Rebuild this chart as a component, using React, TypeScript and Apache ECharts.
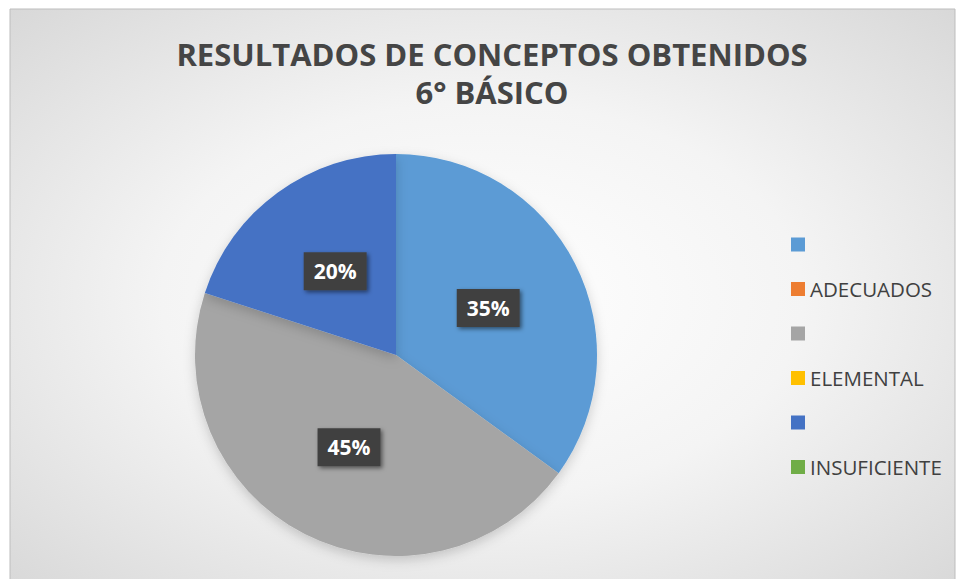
import React, { useEffect, useRef } from 'react';
import * as echarts from 'echarts';

const categories = [' ', 'ADECUADOS', '  ', 'ELEMENTAL', '   ', 'INSUFICIENTE'];
const values = [35, 0, 45, 0, 20, 0];
const colors = ['#5B9BD5', '#ED7D31', '#A5A5A5', '#FFC000', '#4472C4', '#70AD47'];
const titleLines = ['RESULTADOS DE CONCEPTOS OBTENIDOS', '6° BÁSICO'];

const FONT = "'Open Sans', 'Noto Sans', sans-serif";

export default function App() {
  const ref = useRef<HTMLDivElement>(null);
  useEffect(() => {
    if (!ref.current) return;
    const chart = echarts.init(ref.current, null, { renderer: 'svg' });
    const data = categories.map((name, i) => ({
      name,
      value: values[i],
      itemStyle: { color: colors[i] },
      label: { show: values[i] > 0 },
    }));
    chart.setOption({
      animation: false,
      graphic: [
        {
          type: 'rect',
          z: -10,
          shape: { x: 10, y: 9, width: 945, height: 580 },
          style: {
            fill: new echarts.graphic.RadialGradient(0.5, 0.5, 0.97, [
              { offset: 0, color: '#ffffff' },
              { offset: 0.35, color: '#f4f4f4' },
              { offset: 1, color: '#c4c4c4' },
            ]),
            stroke: '#bdbdbd',
            lineWidth: 1,
          },
        },
        {
          type: 'text',
          x: 492,
          y: 54,
          style: {
            text: titleLines[0],
            fill: '#454545',
            font: `bold 31px ${FONT}`,
            textAlign: 'center',
            textVerticalAlign: 'middle',
          },
        },
        {
          type: 'text',
          x: 492,
          y: 92,
          style: {
            text: titleLines[1],
            fill: '#454545',
            font: `bold 31px ${FONT}`,
            textAlign: 'center',
            textVerticalAlign: 'middle',
          },
        },
      ],
      legend: {
        orient: 'vertical',
        left: 786,
        top: 229,
        itemWidth: 14,
        itemHeight: 14,
        itemGap: 23.5,
        icon: 'rect',
        selectedMode: false,
        data: categories,
        textStyle: { fontFamily: FONT, fontSize: 20.5, color: '#404040' },
      },
      series: [
        {
          type: 'pie',
          center: [396, 355],
          radius: 201,
          startAngle: 90,
          clockwise: true,
          data,
          itemStyle: {
            shadowBlur: 12,
            shadowColor: 'rgba(0,0,0,0.18)',
            shadowOffsetY: 4,
          },
          label: {
            position: 'inside',
            formatter: (p: any) => `${Math.round(p.percent)}%`,
            fontFamily: FONT,
            fontSize: 21,
            fontWeight: 'bold',
            color: '#ffffff',
            backgroundColor: '#404040',
            padding: [8, 10, 8, 10],
            lineHeight: 22,
            shadowBlur: 4,
            shadowOffsetX: 2,
            shadowOffsetY: 2,
            shadowColor: 'rgba(0,0,0,0.5)',
          },
          labelLine: { show: false },
          emphasis: { disabled: true },
        },
      ],
    });
    return () => chart.dispose();
  }, []);
  return (
    <div
      ref={ref}
      style={{ position: 'fixed', left: 0, top: 0, width: 959, height: 579, background: '#ffffff' }}
    />
  );
}
